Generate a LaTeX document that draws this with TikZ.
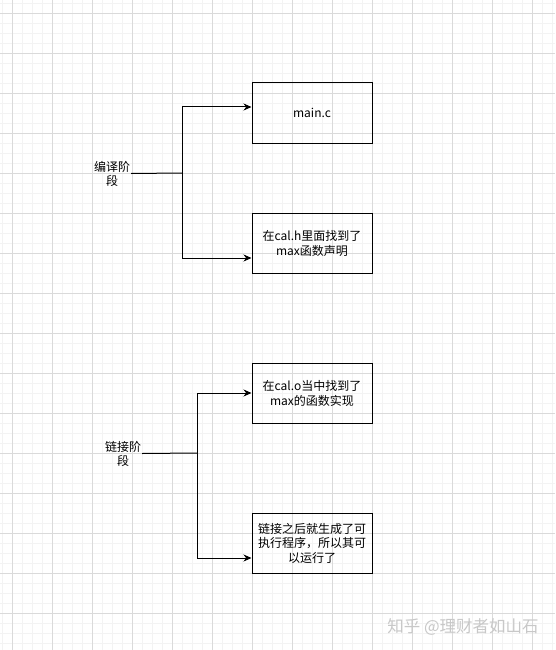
\documentclass[tikz,border=0pt]{standalone}
\usepackage{fontspec}
\setmainfont{Noto Sans CJK SC}
\usetikzlibrary{arrows.meta}
\definecolor{majorgrid}{RGB}{218,218,218}
\definecolor{minorgrid}{RGB}{243,243,243}
\definecolor{wmark}{RGB}{200,200,200}
\tikzset{
  box/.style={draw=black, line width=1pt, minimum width=120pt, minimum height=60pt, inner sep=2pt, align=center, font=\fontsize{12}{15}\selectfont},
  stage/.style={inner sep=1pt, align=center, font=\fontsize{12}{14}\selectfont},
  conn/.style={draw=black, line width=1pt},
  arr/.style={conn, -{Stealth[length=8pt,width=7pt]}},
}
\begin{document}
\begin{tikzpicture}[x=1pt,y=-1pt]
\useasboundingbox (0,0) rectangle (555,650);
\fill[white] (0,0) rectangle (555,650);
\foreach \x in {2,12,...,552} \draw[minorgrid, line width=0.8pt] (\x,0) -- (\x,650);
\foreach \y in {3,13,...,643} \draw[minorgrid, line width=0.8pt] (0,\y) -- (555,\y);
\foreach \x in {12,52,...,532} \draw[majorgrid, line width=0.9pt] (\x,0) -- (\x,650);
\foreach \y in {13,53,...,613} \draw[majorgrid, line width=0.9pt] (0,\y) -- (555,\y);

\node[box] (A) at (312,113) {main.c};
\node[box] (B) at (312,243) {在cal.h里面找到了\\max函数声明};
\node[box] (C) at (312,393) {在cal.o当中找到了\\max的函数实现};
\node[box, font=\fontsize{12}{14.5}\selectfont] (D) at (312,543) {链接之后就生成了可\\执行程序，所以其可\\以运行了};

\node[stage] (L1) at (112,173.5) {编译阶\\段};
\node[stage] (L2) at (123,453.5) {链接阶\\段};

\coordinate (J1) at (182,173);
\coordinate (J2) at (197,453);

\draw[conn] (L1.east) -- (J1);
\draw[arr] (J1) |- ([yshift=6pt]A.west);
\draw[arr] (J1) |- ([yshift=-15pt]B.west);

\draw[conn] (L2.east) -- (J2);
\draw[arr] (J2) |- (C.west);
\draw[arr] (J2) |- ([yshift=-15pt]D.west);

\node[text=wmark, font=\fontsize{16.5}{16.5}\selectfont, inner sep=0pt] (W) at (463,627) {知乎 @理财者如山石};
\end{tikzpicture}
\end{document}
